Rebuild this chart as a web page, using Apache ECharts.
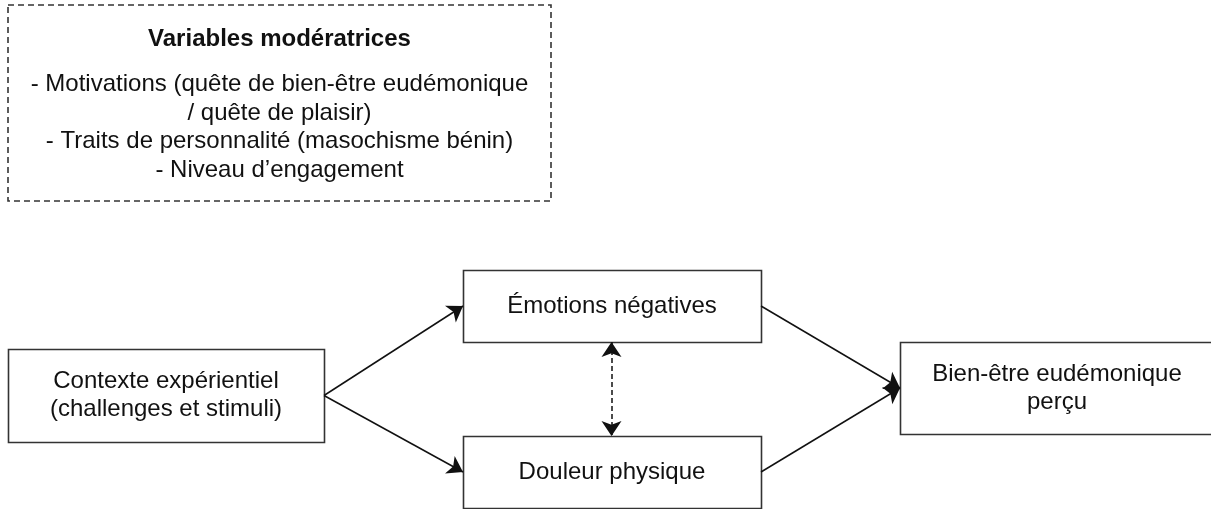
<!DOCTYPE html>
<html>
<head>
<meta charset="utf-8">
<script src="https://cdn.jsdelivr.net/npm/echarts@6/dist/echarts.min.js"></script>
<style>
html, body { margin: 0; padding: 0; background: #fff; }
#main { width: 1211px; height: 509px; }
</style>
</head>
<body>
<div id="main"></div>
<script>
// texte du cadre des variables modératrices
var moderatorTitle = 'Variables modératrices';
var moderatorLines = [
    '- Motivations (quête de bien-être eudémonique',
    '/ quête de plaisir)',
    '- Traits de personnalité (masochisme bénin)',
    '- Niveau d’engagement'
];
// boîtes du modèle
var boxLabels = [
    'Contexte expérientiel\n(challenges et stimuli)',
    'Émotions négatives',
    'Douleur physique',
    'Bien-être eudémonique\nperçu'
];
// liens : [source, cible]
var paths = [[0, 1], [0, 2], [1, 3], [2, 3]];
var correlations = [[1, 2]];

// mise en page (pixels) : [gauche, haut, droite, bas]
var moderatorRect = [8, 5, 551, 201];
var boxRects = [
    [8, 349, 324, 442],
    [463, 270, 761, 342],
    [463, 436, 761, 508],
    [900, 342, 1230, 434]
];

var FONT = '"Liberation Sans", Arial, Helvetica, sans-serif';
var INK = '#111';

function leftMid(r) { return [r[0], (r[1] + r[3]) / 2]; }
function rightMid(r) { return [r[2], (r[1] + r[3]) / 2]; }

var pathData = paths.map(function (p) {
    return { coords: [rightMid(boxRects[p[0]]), leftMid(boxRects[p[1]])] };
});
var corrData = correlations.map(function (c) {
    var a = boxRects[c[0]], b = boxRects[c[1]];
    var x = (Math.max(a[0], b[0]) + Math.min(a[2], b[2])) / 2 - 0.5;
    return { coords: [[x, a[3]], [x, b[1]]] };
});

var chart = echarts.init(document.getElementById('main'));
window.addEventListener('resize', chart.resize);

var option = {
    backgroundColor: '#fff',
    animation: false,
    grid: { left: 0, right: 0, top: 0, bottom: 0 },
    xAxis: { type: 'value', min: 0, max: 1211, show: false },
    yAxis: { type: 'value', min: 0, max: 509, inverse: true, show: false },
    series: [{
        type: 'custom',
        coordinateSystem: 'cartesian2d',
        data: [moderatorRect],
        renderItem: function (params, api) {
            var p1 = api.coord([api.value(0), api.value(1)]);
            var p2 = api.coord([api.value(2), api.value(3)]);
            var cx = (p1[0] + p2[0]) / 2;
            return {
                type: 'group',
                children: [{
                    type: 'rect',
                    shape: { x: p1[0], y: p1[1], width: p2[0] - p1[0], height: p2[1] - p1[1] },
                    style: { fill: '#fff', stroke: '#333', lineWidth: 1.6, lineDash: [6, 4] }
                }, {
                    type: 'text',
                    x: cx, y: p1[1] + 34,
                    style: {
                        text: moderatorTitle, font: 'bold 24px ' + FONT,
                        fill: INK, align: 'center', verticalAlign: 'middle'
                    }
                }, {
                    type: 'text',
                    x: cx, y: p1[1] + 65,
                    style: {
                        text: moderatorLines.join('\n'), font: '24px ' + FONT,
                        lineHeight: 28.7, fill: INK, align: 'center', verticalAlign: 'top'
                    }
                }]
            };
        }
    }, {
        type: 'custom',
        coordinateSystem: 'cartesian2d',
        data: boxRects.map(function (r, i) { return r.concat([i]); }),
        renderItem: function (params, api) {
            var p1 = api.coord([api.value(0), api.value(1)]);
            var p2 = api.coord([api.value(2), api.value(3)]);
            var label = boxLabels[params.dataIndex];
            var r = boxRects[params.dataIndex];
            // la dernière boîte déborde à droite : centrer le texte sur sa largeur réelle
            var cx = r[2] > 1211 ? (p1[0] + 1214) / 2 : (p1[0] + p2[0]) / 2;
            return {
                type: 'group',
                children: [{
                    type: 'rect',
                    shape: { x: p1[0] + 0.5, y: p1[1] + 0.5, width: p2[0] - p1[0], height: p2[1] - p1[1] },
                    style: { fill: '#fff', stroke: '#333', lineWidth: 1.6 }
                }, {
                    type: 'text',
                    x: cx, y: (p1[1] + p2[1]) / 2,
                    style: {
                        text: label, font: '24px ' + FONT, lineHeight: 28,
                        fill: INK, align: 'center', verticalAlign: 'middle'
                    }
                }]
            };
        }
    }, {
        type: 'lines',
        coordinateSystem: 'cartesian2d',
        data: pathData,
        symbol: ['none', 'arrow'],
        symbolSize: 15,
        lineStyle: { color: INK, width: 1.5, opacity: 1 },
        z: 3
    }, {
        type: 'lines',
        coordinateSystem: 'cartesian2d',
        data: corrData,
        symbol: ['arrow', 'arrow'],
        symbolSize: 15,
        lineStyle: { color: INK, width: 1.5, type: [5, 3], opacity: 1 },
        z: 3
    }]
};
chart.setOption(option);
</script>
</body>
</html>
